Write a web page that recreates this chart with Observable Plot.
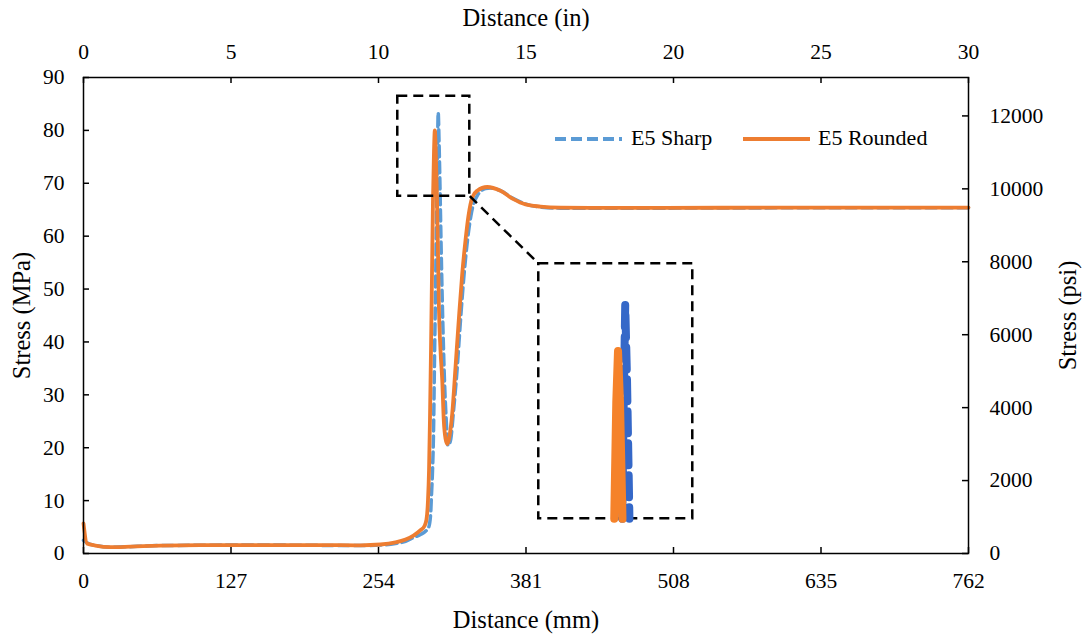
<!DOCTYPE html>
<html><head><meta charset="utf-8">
<script src="https://cdn.jsdelivr.net/npm/d3@7"></script>
<script src="https://cdn.jsdelivr.net/npm/@observablehq/plot@0.6"></script>
<style>
body{margin:0;background:#fff;}
#wrap{position:relative;width:1087px;height:635px;}
.leg{position:absolute;font-family:'Liberation Serif','Times New Roman',serif;font-size:22px;line-height:22px;color:#000;white-space:nowrap;}
.sw{position:absolute;}
</style></head><body><div id="wrap"></div>
<script>
// ---- data ----
const seriesNames = ["E5 Sharp", "E5 Rounded"];
const sharpMm  = [0,2.6,10.3,23.3,66.3,152.4,238.5,255.7,268.6,277.3,284.1,290.2,294.5,297.1,298.8,299.6,300.5,301.4,302.2,303.1,303.9,304.8,305.4,306.1,307.0,307.8,308.9,310.0,310.8,312.3,313.0,313.8,316.0,318.6,321.6,324.6,327.6,330.6,334.1,339.2,346.1,350.4,359.0,370.2,380.6,393.5,410.7,450,500,600,700,762];
const sharpMPa = [2.5,2.1,1.5,1.2,1.5,1.6,1.5,1.6,1.9,2.3,3.0,3.6,4.2,4.9,7.2,11.0,15.7,23.3,36.5,49.7,63.0,76.2,83.4,78.1,68.6,59.2,47.8,38.4,32.7,25.2,22.3,20.4,21.4,27.0,34.6,44.1,52.6,59.2,64.5,67.7,69.0,69.1,68.6,67.1,66.1,65.5,65.3,65.3,65.3,65.35,65.35,65.35];
const roundedMm  = [0,3.0,10.3,23.3,40.5,66.3,100.7,152.4,204.1,238.5,255.7,268.6,277.3,284.1,290.2,293.6,295.3,296.6,297.5,298.3,299.2,300.1,300.9,301.8,302.5,303.3,304.4,305.2,305.9,307.4,308.9,310.2,311.7,313.2,314.7,317.5,320.3,323.1,326.1,328.9,331.5,334.7,339.0,347.6,359.0,370.2,380.6,393.5,410.7,450,500,600,700,762];
const roundedMPa = [5.7,1.9,1.5,1.2,1.3,1.5,1.6,1.6,1.6,1.55,1.7,2.1,2.65,3.4,4.4,5.2,6.4,10.0,15.7,25.2,38.4,53.5,66.7,76.2,80.0,76.2,66.7,57.3,47.8,38.4,32.7,25.2,21.7,20.7,21.7,26.5,35.2,44.1,52.9,59.2,63.9,67.3,68.6,69.3,68.6,67.0,66.0,65.6,65.4,65.35,65.35,65.4,65.4,65.4];

const mmTicks  = [0,127,254,381,508,635,762];
const inTicks  = [0,5,10,15,20,25,30];
const mpaTicks = [0,10,20,30,40,50,60,70,80,90];
const psiTicks = [0,2000,4000,6000,8000,10000,12000];

// magnified region and where the magnified view is shown (mm, MPa)
const zoomBoxMm   = [270.6, 332.6];
const zoomBoxMPa  = [67.56, 86.46];
const insetBoxMm  = [392.0, 524.6];
const insetBoxMPa = [6.56, 54.78];

const MM_PER_IN = 25.4, PSI_PER_MPA = 145.038;

// ---- build tables ----
const sharp = sharpMm.map((m,i)=>({mm:m, mpa:sharpMPa[i]}));
const rounded = roundedMm.map((m,i)=>({mm:m, mpa:roundedMPa[i]}));

function clipSeg(p, q, x0, x1, y0, y1) {
  let t0 = 0, t1 = 1;
  const dx = q[0]-p[0], dy = q[1]-p[1];
  const P = [-dx, dx, -dy, dy], Q = [p[0]-x0, x1-p[0], p[1]-y0, y1-p[1]];
  for (let i=0;i<4;i++){
    if (P[i] === 0) { if (Q[i] < 0) return null; }
    else {
      const r = Q[i]/P[i];
      if (P[i] < 0) { if (r > t1) return null; if (r > t0) t0 = r; }
      else { if (r < t0) return null; if (r < t1) t1 = r; }
    }
  }
  return [[p[0]+t0*dx, p[1]+t0*dy], [p[0]+t1*dx, p[1]+t1*dy], t0, t1];
}
function insetRows(mm, mpa) {
  const [x0,x1] = zoomBoxMm, [y0,y1] = zoomBoxMPa;
  const sx = v => insetBoxMm[0] + (v-x0)*(insetBoxMm[1]-insetBoxMm[0])/(x1-x0);
  const sy = v => insetBoxMPa[0] + (v-y0)*(insetBoxMPa[1]-insetBoxMPa[0])/(y1-y0);
  const rows = []; let run = 0, open = false;
  for (let i=0;i<mm.length-1;i++){
    const c = clipSeg([mm[i],mpa[i]],[mm[i+1],mpa[i+1]],x0,x1,y0,y1);
    if (!c) { open = false; continue; }
    const [p,q,t0,t1] = c;
    if (!open || t0 > 0) { run++; rows.push({mm:sx(p[0]), mpa:sy(p[1]), run}); }
    rows.push({mm:sx(q[0]), mpa:sy(q[1]), run});
    open = t1 === 1;
  }
  return rows;
}
const sharpInset = insetRows(sharpMm, sharpMPa);
const roundedInset = insetRows(roundedMm, roundedMPa);

// ---- layout ----
const W=1087, H=635, mL=83, mR=119, mT=77, mB=82;
const iw = W-mL-mR, ih = H-mT-mB, tk = 6;
const font = "'Liberation Serif', 'Times New Roman', serif";
const tickFs = 21.5, titleFs = 24.5;
const blue = "#5B9BD5", orange = "#ED7D31";
const axisStyle = {stroke:"black", strokeWidth:1.5};
const txt = {fontFamily: font};

const chart = Plot.plot({
  width: W, height: H,
  marginLeft: mL, marginRight: mR, marginTop: mT, marginBottom: mB,
  x: {domain: [0, 762]},
  y: {domain: [0, 90]},
  style: {fontFamily: font, fontSize: tickFs + "px", background: "white", color: "black"},
  marks: [
    Plot.line(sharp, {x:"mm", y:"mpa", stroke: blue, strokeWidth: 3.5, strokeDasharray: "11,5", curve: "monotone-x"}),
    Plot.line(rounded, {x:"mm", y:"mpa", stroke: orange, strokeWidth: 3.8, curve: "monotone-x", strokeLinejoin: "round"}),
    Plot.rect([0], {x1: () => zoomBoxMm[0], x2: () => zoomBoxMm[1], y1: () => zoomBoxMPa[0], y2: () => zoomBoxMPa[1], fill: "none", stroke: "black", strokeWidth: 2.5, strokeDasharray: "10,6"}),
    Plot.link([0], {x1: () => zoomBoxMm[1], y1: () => zoomBoxMPa[0], x2: () => insetBoxMm[0], y2: () => insetBoxMPa[1], stroke: "black", strokeWidth: 2.5, strokeDasharray: "10,6"}),
    Plot.rect([0], {x1: () => insetBoxMm[0], x2: () => insetBoxMm[1], y1: () => insetBoxMPa[0], y2: () => insetBoxMPa[1], fill: "white", stroke: "black", strokeWidth: 2.5, strokeDasharray: "10,6"}),
    Plot.line(sharpInset, {x:"mm", y:"mpa", z:"run", stroke: "#3568C8", strokeWidth: 8, strokeDasharray: "22,10", strokeLinejoin: "round"}),
    Plot.line(roundedInset, {x:"mm", y:"mpa", z:"run", stroke: "#F5822A", strokeWidth: 8, strokeLinejoin: "round"}),
    Plot.frame(axisStyle),
    Plot.tickX(mmTicks, {x: d => d, insetTop: ih - tk, ...axisStyle}),
    Plot.tickX(inTicks.map(v => v*MM_PER_IN), {x: d => d, insetBottom: ih - tk, ...axisStyle}),
    Plot.tickY(mpaTicks, {y: d => d, insetRight: iw - tk, ...axisStyle}),
    Plot.tickY(psiTicks.map(v => v/PSI_PER_MPA), {y: d => d, insetLeft: iw - tk, ...axisStyle}),
    Plot.axisX(mmTicks, {anchor: "bottom", tickSize: 0, tickPadding: 19, label: null, fontSize: tickFs, ...txt, tickFormat: d => String(d)}),
    Plot.axisX(inTicks.map(v => v*MM_PER_IN), {anchor: "top", tickSize: 0, tickPadding: 19, label: null, fontSize: tickFs, ...txt, tickFormat: d => String(Math.round(d/MM_PER_IN))}),
    Plot.axisY(mpaTicks, {anchor: "left", tickSize: 0, tickPadding: 19, label: null, fontSize: tickFs, ...txt, tickFormat: d => String(d)}),
    Plot.axisY(psiTicks.map(v => v/PSI_PER_MPA), {anchor: "right", tickSize: 0, tickPadding: 21, label: null, fontSize: tickFs, ...txt, tickFormat: d => String(Math.round(d*PSI_PER_MPA))}),
    Plot.text(["Distance (mm)"], {text: d => d, frameAnchor: "bottom", dy: 67, textAnchor: "middle", lineAnchor: "middle", fontSize: titleFs, ...txt}),
    Plot.text(["Distance (in)"], {text: d => d, frameAnchor: "top", dy: -59, textAnchor: "middle", lineAnchor: "middle", fontSize: titleFs, ...txt}),
    Plot.text(["Stress (MPa)"], {text: d => d, frameAnchor: "left", dx: -61, rotate: -90, textAnchor: "middle", lineAnchor: "middle", fontSize: titleFs, ...txt}),
    Plot.text(["Stress (psi)"], {text: d => d, frameAnchor: "right", dx: 100, rotate: -90, textAnchor: "middle", lineAnchor: "middle", fontSize: titleFs, ...txt})
  ]
});
const wrap = document.getElementById("wrap");
wrap.appendChild(chart);
chart.querySelectorAll("text").forEach(t => { t.style.fontFamily = font; t.style.fontVariant = "normal"; });

// legend
function addLegend(name, color, dash, x, textX) {
  const ns = "http://www.w3.org/2000/svg";
  const s = document.createElementNS(ns, "svg");
  s.setAttribute("class","sw"); s.setAttribute("width", 68); s.setAttribute("height", 10);
  s.style.left = x + "px"; s.style.top = "134px";
  const l = document.createElementNS(ns, "line");
  l.setAttribute("x1", 0); l.setAttribute("x2", 67); l.setAttribute("y1", 5); l.setAttribute("y2", 5);
  l.setAttribute("stroke", color); l.setAttribute("stroke-width", 3.8);
  if (dash) l.setAttribute("stroke-dasharray", dash);
  s.appendChild(l); wrap.appendChild(s);
  const t = document.createElement("div");
  t.className = "leg"; t.textContent = name; t.style.left = textX + "px"; t.style.top = "127px";
  wrap.appendChild(t);
}
addLegend(seriesNames[0], blue, "11,5", 555, 631);
addLegend(seriesNames[1], orange, null, 743, 818);
</script></body></html>
